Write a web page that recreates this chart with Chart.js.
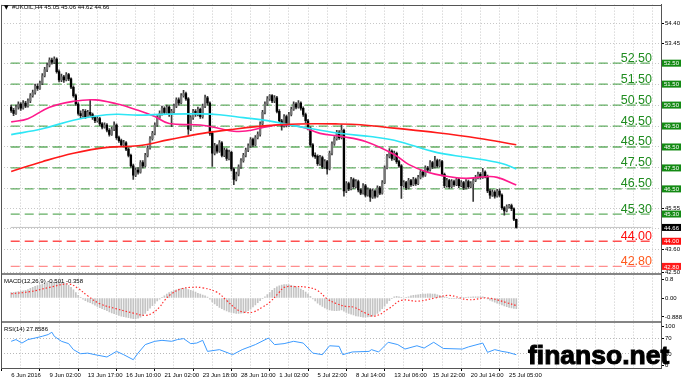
<!DOCTYPE html>
<html><head><meta charset="utf-8">
<script src="https://cdn.jsdelivr.net/npm/chart.js@4.4.1/dist/chart.umd.min.js"></script>
<style>html,body{margin:0;padding:0;background:#fff;overflow:hidden}canvas{display:block}</style>
</head><body>
<canvas id="c" width="685" height="383"></canvas>
<script>
const symbolName = '#UKOIL,H4';
const xTickLabels = ['6 Jun 2016','9 Jun 02:00','13 Jun 17:00','16 Jun 10:00','21 Jun 02:00','23 Jun 18:00','28 Jun 10:00','1 Jul 02:00','5 Jul 22:00','8 Jul 14:00','13 Jul 06:00','15 Jul 22:00','20 Jul 14:00','25 Jul 05:00'];
const priceTicks = [54.40,53.45,52.50,51.50,50.50,49.50,48.50,47.50,46.50,45.55,44.60,43.60,42.50];
const macdTicks = [0.888, 0, -0.888];
const macdTickText = ['0.8', '0.00', '-0.888'];
const rsiTicks = [100, 70, 30, 0];
const greenLevels = [52.50, 51.50, 50.50, 49.50, 48.50, 47.50, 46.50, 45.30];
const redLevels = [44.00, 42.80];

const opens = [
50.40,50.25,50.10,50.40,50.55,50.35,50.60,50.45,50.70,50.95,
51.10,51.40,51.30,51.55,51.90,52.20,52.40,52.65,52.55,52.70,
52.10,51.70,51.85,51.70,51.95,51.75,51.35,50.95,50.55,50.10,
50.00,50.20,49.95,50.15,50.05,49.90,49.75,49.85,49.60,49.45,
49.55,49.30,49.10,49.35,49.55,48.95,48.80,48.60,48.70,48.40,
48.10,47.60,47.15,47.40,47.30,47.75,47.60,48.10,48.45,48.90,
49.15,49.55,49.90,50.10,50.35,50.15,50.40,50.05,50.20,50.45,
50.75,50.60,50.95,51.05,50.80,49.35,49.90,50.20,50.05,50.30,
49.95,50.45,50.85,50.60,49.15,48.20,48.55,48.30,48.70,48.10,
48.35,47.95,48.25,47.45,46.95,47.20,47.55,47.85,48.10,48.35,
48.55,48.85,48.60,48.95,49.10,49.60,50.15,50.55,50.80,50.95,
50.70,50.85,50.20,49.75,49.50,49.95,49.55,50.05,50.30,50.55,
50.40,50.60,50.35,50.05,49.75,49.40,48.60,48.10,48.05,47.70,
48.00,47.55,47.80,47.45,48.20,48.65,48.90,49.20,48.95,49.30,
46.40,46.75,46.50,46.95,46.60,46.85,46.45,46.30,46.65,46.20,
46.45,46.10,46.40,46.15,46.55,46.30,46.80,47.50,48.05,48.30,
47.95,48.20,47.80,47.60,46.65,46.80,46.55,46.90,46.70,46.95,
46.75,47.05,47.30,47.15,47.50,47.40,47.75,47.55,47.85,47.60,
47.80,47.20,46.65,46.90,46.60,46.85,46.70,46.95,46.65,46.80,
46.55,46.85,46.60,46.75,46.90,47.05,47.20,47.05,47.30,47.10,
46.40,46.20,46.35,46.15,46.40,46.20,45.60,45.45,45.65,45.70,
45.55,45.05];
const highs = [
50.50,50.35,50.50,50.65,50.62,50.72,50.68,50.80,51.05,51.22,
51.50,51.52,51.65,52.00,52.30,52.50,52.75,52.74,52.80,52.76,
52.18,51.98,51.92,52.05,52.02,51.80,51.42,51.02,50.62,50.22,
50.30,50.28,50.25,50.75,50.12,49.98,49.95,49.92,49.66,49.65,
49.62,49.38,49.45,49.70,49.60,49.02,48.88,48.82,48.76,48.46,
48.16,47.68,47.50,47.52,47.85,47.85,48.20,48.55,49.00,49.25,
49.65,50.00,50.22,50.45,50.42,50.50,50.46,50.30,50.55,50.85,
50.85,51.05,51.20,51.12,50.86,50.00,50.30,50.28,50.40,50.36,
50.55,50.98,50.92,50.66,49.22,48.68,48.62,48.80,48.76,48.45,
48.42,48.35,48.30,47.52,47.30,47.65,47.95,48.20,48.45,48.65,
48.95,48.92,49.05,49.22,49.70,50.25,50.65,50.90,51.00,51.00,
50.95,50.92,50.28,49.82,50.05,50.02,50.15,50.40,50.65,50.62,
50.72,50.66,50.42,50.12,49.82,49.46,48.66,48.22,48.12,48.10,
48.06,47.90,47.86,48.30,48.75,49.00,49.30,49.28,49.56,49.36,
46.85,46.82,47.05,47.02,46.95,46.92,46.52,46.75,46.72,46.55,
46.52,46.50,46.46,46.65,46.62,46.90,47.60,48.15,48.42,48.36,
48.30,48.26,47.88,47.66,46.90,46.86,47.00,46.96,47.05,47.02,
47.15,47.40,47.36,47.60,47.58,47.85,47.82,48.05,47.92,47.90,
47.86,47.26,47.00,46.96,46.95,46.92,47.05,47.02,46.90,46.86,
46.95,46.92,46.85,47.00,47.15,47.30,47.28,47.48,47.36,47.16,
46.48,46.45,46.42,46.48,46.50,46.26,45.66,45.74,45.76,45.77,
45.60,45.06];
const lows = [
50.15,50.00,50.05,50.30,50.25,50.30,50.38,50.40,50.62,50.88,
51.02,51.20,51.25,51.48,51.85,52.10,52.32,52.45,52.48,52.02,
51.60,51.62,51.58,51.65,51.66,51.28,50.88,50.48,50.02,49.90,
49.92,49.86,49.90,49.96,49.82,49.66,49.68,49.52,49.36,49.40,
49.22,49.02,49.05,49.28,48.86,48.72,48.52,48.55,48.32,48.02,
47.52,46.95,47.08,47.20,47.25,47.50,47.55,48.02,48.40,48.82,
49.08,49.48,49.82,50.02,50.06,50.10,49.96,49.47,50.12,50.38,
50.50,50.55,50.88,50.72,49.10,49.28,49.82,49.96,49.98,49.86,
49.88,50.38,50.50,49.05,47.57,48.12,48.20,48.24,48.02,48.04,
47.86,47.88,47.36,46.70,46.88,47.12,47.48,47.78,48.02,48.28,
48.48,48.52,48.55,48.88,49.02,49.55,50.08,50.48,50.72,50.62,
50.62,50.12,49.66,49.30,49.45,49.46,49.48,49.98,50.25,50.32,
50.35,50.26,49.96,49.66,49.32,48.52,48.02,47.95,47.62,47.62,
47.46,47.48,47.20,47.40,48.12,48.58,48.82,48.86,48.88,46.15,
46.32,46.42,46.45,46.52,46.55,46.36,46.22,46.25,46.12,46.15,
45.90,46.05,46.06,46.10,46.22,46.25,46.75,47.45,47.98,47.86,
47.88,47.72,47.52,46.05,46.58,46.46,46.50,46.62,46.65,46.66,
46.70,46.98,47.06,47.10,47.32,47.35,47.46,47.50,47.52,47.55,
47.12,46.56,46.58,46.52,46.55,46.62,46.65,46.56,46.60,46.46,
46.50,46.52,46.55,45.90,46.84,46.98,46.96,47.00,47.02,46.32,
46.05,46.14,46.06,46.10,46.12,45.52,45.25,45.40,45.58,45.46,
44.98,44.62];
const closes = [
50.25,50.10,50.40,50.55,50.35,50.60,50.45,50.70,50.95,51.10,
51.40,51.30,51.55,51.90,52.20,52.40,52.65,52.55,52.70,52.10,
51.70,51.85,51.70,51.95,51.75,51.35,50.95,50.55,50.10,50.00,
50.20,49.95,50.15,50.05,49.90,49.75,49.85,49.60,49.45,49.55,
49.30,49.10,49.35,49.55,48.95,48.80,48.60,48.70,48.40,48.10,
47.60,47.15,47.40,47.30,47.75,47.60,48.10,48.45,48.90,49.15,
49.55,49.90,50.10,50.35,50.15,50.40,50.05,50.20,50.45,50.75,
50.60,50.95,51.05,50.80,49.35,49.90,50.20,50.05,50.30,49.95,
50.45,50.85,50.60,49.15,48.20,48.55,48.30,48.70,48.10,48.35,
47.95,48.25,47.45,46.95,47.20,47.55,47.85,48.10,48.35,48.55,
48.85,48.60,48.95,49.10,49.60,50.15,50.55,50.80,50.95,50.70,
50.85,50.20,49.75,49.50,49.95,49.55,50.05,50.30,50.55,50.40,
50.60,50.35,50.05,49.75,49.40,48.60,48.10,48.05,47.70,48.00,
47.55,47.80,47.45,48.20,48.65,48.90,49.20,48.95,49.30,46.40,
46.75,46.50,46.95,46.60,46.85,46.45,46.30,46.65,46.20,46.45,
46.10,46.40,46.15,46.55,46.30,46.80,47.50,48.05,48.30,47.95,
48.20,47.80,47.60,46.65,46.80,46.55,46.90,46.70,46.95,46.75,
47.05,47.30,47.15,47.50,47.40,47.75,47.55,47.85,47.60,47.80,
47.20,46.65,46.90,46.60,46.85,46.70,46.95,46.65,46.80,46.55,
46.85,46.60,46.75,46.90,47.05,47.20,47.05,47.30,47.10,46.40,
46.20,46.35,46.15,46.40,46.20,45.60,45.45,45.65,45.70,45.55,
45.05,44.66];

// moving averages: [bar index, price]
const maRed = [[0,47.33],[13,47.80],[26,48.20],[40,48.48],[53,48.56],[66,48.85],[80,49.15],[93,49.35],[107,49.52],[120,49.60],[137,49.60],[146,49.56],[160,49.40],[178,49.18],[195,48.92],[211,48.61]];
const maCyan = [[0,49.09],[13,49.37],[26,49.78],[35,49.97],[44,50.06],[53,50.02],[65,50.07],[79,50.08],[87,50.04],[97,49.90],[107,49.76],[118,49.52],[125,49.38],[138,49.14],[150,49.00],[160,48.82],[178,48.23],[191,48.00],[205,47.71],[211,47.45]];
const maPink = [[0,49.70],[7,49.85],[16,50.40],[26,50.68],[35,50.75],[44,50.56],[53,50.25],[60,49.95],[66,49.62],[79,49.55],[87,49.38],[93,49.25],[98,49.26],[107,49.47],[113,49.56],[121,49.47],[129,49.15],[138,49.00],[148,48.76],[160,48.14],[166,47.67],[174,47.29],[182,47.10],[190,47.00],[198,47.08],[203,47.05],[211,46.68]];

const macdHist = [
0.25,0.27,0.28,0.30,0.32,0.34, 0.36,0.40,0.45,0.50,0.55,0.58,
0.62,0.66,0.69,0.72,0.74,0.75, 0.76,0.75,0.74,0.73,0.72,0.68,
0.60,0.50,0.38,0.25,0.12,0.02, -0.06,-0.13,-0.18,-0.22,-0.28,-0.34,
-0.40,-0.45,-0.50,-0.55,-0.60,-0.66, -0.70,-0.74,-0.78,-0.82,-0.85,-0.88,
-0.90,-0.92,-0.95,-0.97,-0.97,-0.95, -0.90,-0.82,-0.72,-0.60,-0.48,-0.36,
-0.25,-0.14,-0.05,0.02,0.10,0.18, 0.25,0.30,0.35,0.38,0.42,0.44,
0.45,0.44,0.40,0.36,0.33,0.28, 0.22,0.18,0.14,0.10,0.04,-0.06,
-0.18,-0.28,-0.36,-0.44,-0.50,-0.56, -0.61,-0.65,-0.68,-0.70,-0.72,-0.72,
-0.71,-0.70,-0.66,-0.60,-0.52,-0.42, -0.32,-0.22,-0.12,-0.03,0.06,0.16,
0.26,0.36,0.45,0.52,0.57,0.61, 0.63,0.63,0.62,0.60,0.56,0.52,
0.48,0.42,0.36,0.28,0.18,0.08, -0.04,-0.14,-0.24,-0.32,-0.40,-0.47,
-0.52,-0.56,-0.58,-0.60,-0.60,-0.58, -0.56,-0.62,-0.68,-0.72,-0.76,-0.80,
-0.84,-0.86,-0.88,-0.90,-0.90,-0.89, -0.88,-0.85,-0.80,-0.72,-0.62,-0.50,
-0.38,-0.25,-0.12,-0.02,0.05,0.08, 0.06,0.02,0.00,0.03,0.06,0.10,
0.12,0.14,0.15,0.17,0.18,0.19, 0.20,0.20,0.19,0.18,0.15,0.12,
0.08,0.04,0.02,-0.01,-0.02,-0.03, -0.02,-0.01,0.01,0.02,0.03,0.04,
0.04,0.05,0.05,0.06,0.06,0.05, 0.02,-0.04,-0.10,-0.15,-0.20,-0.24,
-0.28,-0.32,-0.37,-0.41,-0.44,-0.47, -0.49,-0.501];
const macdSignal = [[0,0.20],[8,0.30],[16,0.50],[24,0.66],[28,0.45],[32,0.10],[37,-0.27],[44,-0.51],[51,-0.71],[56,-0.82],[59,-0.71],[62,-0.43],[64,-0.12],[67,0.20],[71,0.43],[75,0.50],[80,0.48],[86,0.27],[90,-0.12],[94,-0.51],[97,-0.66],[101,-0.66],[105,-0.43],[108,-0.20],[112,0.27],[114,0.50],[118,0.54],[124,0.50],[128,0.35],[132,-0.04],[136,-0.27],[140,-0.40],[143,-0.43],[148,-0.71],[152,-0.85],[158,-0.48],[163,-0.11],[170,-0.15],[177,0.00],[183,0.12],[191,-0.08],[199,0.00],[207,-0.22],[211,-0.358]];
const rsiPoints = [[0,62.5],[2,67],[4.5,58],[7,67],[10,71],[13,75.5],[15.5,80],[17,86],[18,75.5],[21,62.5],[24,56.5],[26,41],[29,30.5],[32,32],[35,28],[40,22],[44,36.5],[47,28],[51,15],[53,32],[56,54],[60,62.5],[63,65],[67,62.5],[69.5,67],[72,69.5],[75,56.5],[77.5,58],[80,65],[82,36.5],[87,41],[92.5,28],[96.5,41],[102,54],[107.5,71],[110,54],[114,56.5],[118,62.5],[122,58],[126,32],[130,28],[133,51],[137,49.5],[138.5,28],[142.5,35],[149.5,36.5],[150.5,41],[153.5,35],[157.5,60],[161.5,54],[164.5,42.5],[169.5,51],[172.5,45],[176.5,60],[180.5,44],[188.5,42.5],[191,48],[197,58],[199,34],[202,41],[205,36.5],[207.5,34],[211,27.8586]];

const X_MIN = -0.2, X_MAX = 267.4;
const FONT = {family: 'Liberation Sans, Arial, sans-serif', size: 6};
const GRID = '#c8c8c8';
const pts = arr => arr.map(p => ({x: p[0], y: p[1]}));
const idx = opens.map((_, i) => i);
const hasLabel = v => v % 16 === 0 && v / 16 < xTickLabels.length;

const hLine = (v, color, dash, order, width) => ({
  type: 'line', yAxisID: 'yMain', order,
  data: [{x: X_MIN, y: v}, {x: X_MAX, y: v}],
  borderColor: color, borderWidth: width, borderDash: dash, pointRadius: 0
});

const datasets = [
  {type:'line', yAxisID:'yMain', order:0, data: pts(maRed), borderColor:'#ff1a1a', borderWidth:1.6, pointRadius:0, tension:0.4},
  {type:'line', yAxisID:'yMain', order:0, data: pts(maCyan), borderColor:'#2ee6f5', borderWidth:1.6, pointRadius:0, tension:0.4},
  {type:'line', yAxisID:'yMain', order:0, data: pts(maPink), borderColor:'#ff1a8c', borderWidth:1.6, pointRadius:0, tension:0.4},
  {type:'bar', yAxisID:'yMain', order:1, grouped:false, barThickness:1.7,
    data: idx.map(i => ({x:i, y:[opens[i], closes[i]]})),
    backgroundColor: c => (c.raw && c.raw.y[1] >= c.raw.y[0]) ? '#767676' : '#000000', borderWidth:0},
  {type:'bar', yAxisID:'yMain', order:2, grouped:false, barThickness:1,
    data: idx.map(i => ({x:i, y:[lows[i], highs[i]]})),
    backgroundColor:'#3a3a3a', borderWidth:0},
  ...greenLevels.map(v => hLine(v, 'rgba(70,160,70,0.85)', [9,5], 3, 1.3)),
  hLine(redLevels[0], 'rgba(255,60,60,0.9)', [9,5], 3, 1.3),
  hLine(redLevels[1], 'rgba(255,130,130,0.9)', [9,5], 3, 1.3),
  hLine(closes[closes.length-1], '#c4c4c4', [], 4, 1),
  {type:'bar', yAxisID:'yMacd', order:5, grouped:false, barThickness:1,
    data: macdHist.map((v,i) => ({x:i, y:v})), backgroundColor:'#c4c4c4', borderWidth:0},
  {type:'line', yAxisID:'yMacd', order:0, data: pts(macdSignal), borderColor:'#ff3030', borderWidth:1.2, borderDash:[1.5,2], pointRadius:0, tension:0.4},
  {type:'line', yAxisID:'yRsi', order:0, data: pts(rsiPoints), borderColor:'#3d9bff', borderWidth:1, pointRadius:0, tension:0}
];

const overlay = {
  id: 'overlay',
  afterDraw(chart) {
    const {ctx, chartArea: a, scales} = chart;
    const yM = scales.yMain, yD = scales.yMacd;
    ctx.save();
    ctx.fillStyle = '#858585';
    ctx.fillRect(a.left, Math.round(yM.bottom) - 1, a.right - a.left, 2);
    ctx.fillRect(a.left, Math.round(yD.bottom) - 1, a.right - a.left, 2);
    ctx.strokeStyle = '#555'; ctx.lineWidth = 1;
    ctx.strokeRect(Math.round(a.left) + 0.5, Math.round(a.top) + 0.5, Math.round(a.right - a.left), Math.round(a.bottom - a.top));
    const big = '12.5px Liberation Sans, Arial, sans-serif';
    const small = '6px Liberation Sans, Arial, sans-serif';
    const levels = greenLevels.map(v => [v, '#1f8c1f', '#138a13'])
      .concat([[redLevels[0], '#ff1010', '#ff1010'], [redLevels[1], '#ff5a1e', '#ff1a1a']]);
    levels.forEach(([v, tc, bc]) => {
      const y = yM.getPixelForValue(v);
      ctx.font = big; ctx.textAlign = 'right'; ctx.textBaseline = 'alphabetic';
      ctx.fillStyle = tc; ctx.fillText(v.toFixed(2), a.right - 9, y - 1.5);
      ctx.fillStyle = bc; ctx.fillRect(a.right + 1, y - 3.5, 19, 7);
      ctx.font = small; ctx.textAlign = 'left'; ctx.textBaseline = 'middle';
      ctx.fillStyle = '#fff'; ctx.fillText(v.toFixed(2), a.right + 3, y + 0.5);
    });
    const last = closes[closes.length - 1];
    const yl = yM.getPixelForValue(last);
    ctx.fillStyle = '#000'; ctx.fillRect(a.right + 1, yl - 3.5, 19, 7);
    ctx.fillStyle = '#fff'; ctx.font = small; ctx.textAlign = 'left'; ctx.textBaseline = 'middle';
    ctx.fillText(last.toFixed(2), a.right + 3, yl + 0.5);
    const n = opens.length - 1;
    ctx.fillStyle = '#000'; ctx.textBaseline = 'alphabetic';
    ctx.font = '6px DejaVu Sans, sans-serif';
    ctx.fillText('\u25BC', 4, 8.5);
    ctx.font = small;
    ctx.fillText(symbolName + ' ' + [opens[n], highs[n], lows[n], closes[n]].map(v => v.toFixed(2)).join(' '), 12, 8.5);
    ctx.fillText('MACD(12,26,9) ' + macdHist[n].toFixed(3) + ' ' + macdSignal[macdSignal.length-1][1].toFixed(3), 4, yM.bottom + 9);
    ctx.fillText('RSI(14) ' + rsiPoints[rsiPoints.length-1][1].toFixed(4), 4, yD.bottom + 8.5);
    ctx.font = 'bold 26.5px Liberation Sans, Arial, sans-serif';
    ctx.fillStyle = '#000'; ctx.strokeStyle = '#000'; ctx.lineWidth = 1;
    ctx.fillText('finanso.net', 528, 364);
    ctx.strokeText('finanso.net', 528, 364);
    ctx.restore();
  }
};

new Chart(document.getElementById('c'), {
  data: { datasets },
  plugins: [overlay],
  options: {
    responsive: false, animation: false, devicePixelRatio: 1, events: [],
    layout: { padding: {left: 1, top: 2, right: 0, bottom: 0} },
    plugins: { legend: {display:false}, tooltip: {enabled:false} },
    scales: {
      x: {
        type:'linear', position:'bottom', min: X_MIN, max: X_MAX,
        afterFit: s => { s.height = 15; },
        afterBuildTicks: s => { const t = []; for (let v = 0; v <= 264; v += 8) t.push({value: v}); s.ticks = t; },
        ticks: { autoSkip:false, maxRotation:0, minRotation:0, align:'start', padding:1, font: FONT, color:'#000',
          callback: v => hasLabel(v) ? xTickLabels[v/16] : '' },
        grid: { color: GRID, lineWidth:1, drawTicks:true, tickLength:3,
          tickColor: c => (c.tick && hasLabel(c.tick.value)) ? '#000' : 'rgba(0,0,0,0)' },
        border: { display:true, color:'#555', width:1, dash:[1,2] }
      },
      yMain: {
        type:'linear', position:'right', stack:'panes', stackWeight:271, min:42.453, max:55.296,
        afterFit: s => { s.width = 24; },
        afterBuildTicks: s => { s.ticks = priceTicks.map(v => ({value: v})); },
        ticks: { autoSkip:false, font: FONT, color:'#000', padding:1, callback: v => v.toFixed(2) },
        grid: { color: GRID, lineWidth:1, tickLength:3, tickColor:'#000' },
        border: { color:'#555', width:1, dash:[1,2] }
      },
      yMacd: {
        type:'linear', position:'right', stack:'panes', stackWeight:49, min:-1.145, max:1.145,
        afterFit: s => { s.width = 24; },
        afterBuildTicks: s => { s.ticks = macdTicks.map(v => ({value: v})); },
        ticks: { autoSkip:false, font: FONT, color:'#000', padding:1, callback: (v, i) => macdTickText[i] },
        grid: { drawOnChartArea:false, tickLength:3, tickColor:'#000' },
        border: { color:'#555', width:1 }
      },
      yRsi: {
        type:'linear', position:'right', stack:'panes', stackWeight:46, min:-6.4, max:111.5,
        afterFit: s => { s.width = 24; },
        afterBuildTicks: s => { s.ticks = rsiTicks.map(v => ({value: v})); },
        ticks: { autoSkip:false, font: FONT, color:'#000', padding:1, callback: v => String(v) },
        grid: { color: c => (c.tick && (c.tick.value === 70 || c.tick.value === 30)) ? '#b8b8b8' : 'rgba(0,0,0,0)',
          tickLength:3, tickColor:'#000' },
        border: { color:'#555', width:1, dash:[1,2] }
      }
    }
  }
});
</script>
</body></html>
